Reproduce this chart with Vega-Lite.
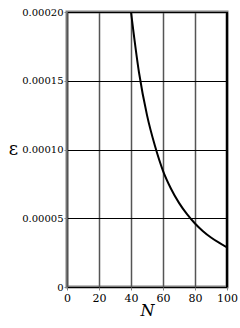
{
  "$schema": "https://vega.github.io/schema/vega-lite/v6.json",
  "width": 160,
  "height": 275,
  "autosize": "none",
  "padding": {"left": 67, "top": 12, "right": 13, "bottom": 41},
  "background": "white",
  "config": {
    "view": {"stroke": "#808080", "strokeWidth": 3},
    "font": "DejaVu Serif"
  },
  "data": {
    "values": [
      {"N": 40, "eps": 0.000200},
      {"N": 45, "eps": 0.000156},
      {"N": 50, "eps": 0.000125},
      {"N": 55, "eps": 0.0001025},
      {"N": 60, "eps": 0.0000845},
      {"N": 65, "eps": 0.0000715},
      {"N": 70, "eps": 0.0000612},
      {"N": 75, "eps": 0.0000530},
      {"N": 80, "eps": 0.0000462},
      {"N": 85, "eps": 0.0000406},
      {"N": 90, "eps": 0.0000360},
      {"N": 95, "eps": 0.0000322},
      {"N": 100, "eps": 0.0000288}
    ]
  },
  "encoding": {
    "x": {
      "field": "N", "type": "quantitative",
      "scale": {"domain": [0, 100], "nice": false},
      "axis": {
        "values": [0, 20, 40, 60, 80, 100],
        "labelOverlap": false,
        "labelFlush": false,
        "labelBound": false,
        "title": "N",
        "titleFont": "DejaVu Serif",
        "labelFont": "DejaVu Serif",
        "titleFontStyle": "italic",
        "titleFontWeight": "normal",
        "titleFontSize": 16,
        "titlePadding": -1,
        "titleColor": "black",
        "labelFontSize": 11,
        "labelColor": "black",
        "labelPadding": 2,
        "tickSize": 3,
        "tickColor": "#808080",
        "domain": false,
        "grid": true,
        "gridColor": "#555555",
        "gridWidth": 1.5,
        "gridOpacity": 1
      }
    }
  },
  "layer": [
    {
      "mark": {"type": "line", "color": "black", "strokeWidth": 2, "interpolate": "monotone", "clip": true},
      "encoding": {
        "y": {
          "field": "eps", "type": "quantitative",
          "scale": {"domain": [0, 0.0002], "nice": false},
          "axis": {
            "values": [0, 0.00005, 0.0001, 0.00015, 0.0002],
            "labelOverlap": false,
            "labelFlush": false,
            "labelBound": false,
            "labelExpr": "datum.value == 0 ? '0' : format(datum.value, '.5f')",
            "title": "ε",
            "titleFont": "DejaVu Serif",
            "labelFont": "DejaVu Serif",
            "titleAngle": 0,
            "titleFontSize": 18,
            "titleFontWeight": "normal",
            "titleColor": "black",
            "titleAlign": "center",
            "titleBaseline": "middle",
            "titleX": -54,
            "titleY": 137,
            "labelFontSize": 10,
            "labelColor": "black",
            "labelPadding": 1,
            "tickSize": 3,
            "tickColor": "#808080",
            "domain": false,
            "grid": true,
            "gridColor": "black",
            "gridWidth": 1,
            "gridOpacity": 1
          }
        }
      }
    },
    {
      "transform": [{"filter": "datum.N == 100"}],
      "mark": {"type": "rule", "color": "black", "strokeWidth": 2},
      "encoding": {}
    }
  ]
}
